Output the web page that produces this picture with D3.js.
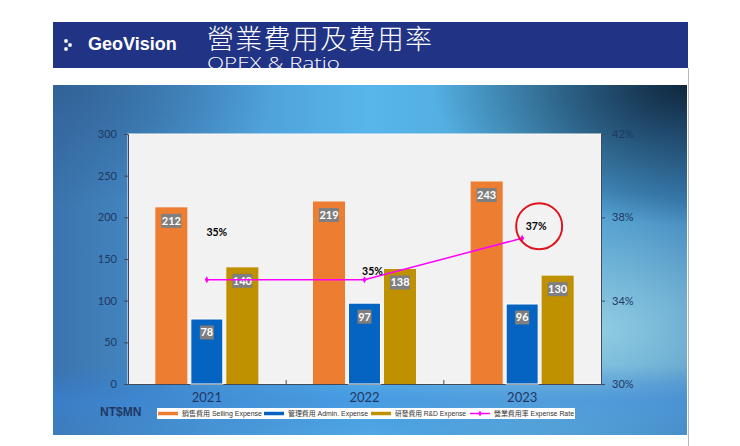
<!DOCTYPE html>
<html><head><meta charset="utf-8">
<script src="https://cdn.jsdelivr.net/npm/d3@7"></script>
<style>
html,body{margin:0;padding:0;background:#fff;}
svg{display:block;}
</style></head>
<body>
<svg id="c" width="740" height="446"></svg>
<script>
// ---- data ----
const categories = ["2021", "2022", "2023"];
const sellingExpense = [212, 219, 243];
const adminExpense = [78, 97, 96];
const rdExpense = [140, 138, 130];
const expenseRate = [0.35, 0.35, 0.37];
const leftTicks = [0, 50, 100, 150, 200, 250, 300];
const rightTicks = [0.30, 0.34, 0.38, 0.42];
const seriesNames = ["銷售費用 Selling Expense", "管理費用 Admin. Expense", "研發費用 R&D Expense", "營業費用率 Expense Rate"];

// ---- layout ----
const svg = d3.select("#c");
const W = 740, H = 446;
const plot = {x0: 128, x1: 601, y0: 134, y1: 384};
const colors = ["#ed7d31", "#0563c1", "#bf9000", "#ff00ff"];
const navy = "#1f3864";

const defs = svg.append("defs");
// background gradients
const lg = defs.append("linearGradient").attr("id", "bgH").attr("x1", 0).attr("x2", 1).attr("y1", 0).attr("y2", 0);
[[0, "#3b73ad"], [0.25, "#4b98d2"], [0.5, "#58b6ea"], [0.75, "#4fa6d8"], [1, "#3d86bd"]].forEach(s => lg.append("stop").attr("offset", s[0]).attr("stop-color", s[1]));
const rgDark = defs.append("radialGradient").attr("id", "bgTR").attr("cx", 1).attr("cy", 0).attr("r", 0.4);
rgDark.append("stop").attr("offset", 0).attr("stop-color", "#0d2238").attr("stop-opacity", 0.95);
rgDark.append("stop").attr("offset", 1).attr("stop-color", "#0d2238").attr("stop-opacity", 0);
const rgLight = defs.append("radialGradient").attr("id", "bgBR").attr("cx", 0.85).attr("cy", 0.7).attr("r", 0.4);
rgLight.append("stop").attr("offset", 0).attr("stop-color", "#9fd6e6").attr("stop-opacity", 0.85);
rgLight.append("stop").attr("offset", 1).attr("stop-color", "#9fd6e6").attr("stop-opacity", 0);
const rgTL = defs.append("radialGradient").attr("id", "bgTL").attr("cx", 0).attr("cy", 0).attr("r", 0.35);
rgTL.append("stop").attr("offset", 0).attr("stop-color", "#2f5f92").attr("stop-opacity", 0.8);
rgTL.append("stop").attr("offset", 1).attr("stop-color", "#2f5f92").attr("stop-opacity", 0);
const lgB = defs.append("linearGradient").attr("id", "bgB").attr("x1", 0).attr("x2", 0).attr("y1", 0).attr("y2", 1);
lgB.append("stop").attr("offset", 0.8).attr("stop-color", "#2f7ad8").attr("stop-opacity", 0);
lgB.append("stop").attr("offset", 0.9).attr("stop-color", "#3a86dc").attr("stop-opacity", 0.55);
lgB.append("stop").attr("offset", 1).attr("stop-color", "#3f8bd6").attr("stop-opacity", 0.35);

// panel
const panel = {x: 53, y: 85, w: 634, h: 350};
["url(#bgH)", "url(#bgTL)", "url(#bgBR)", "url(#bgTR)", "url(#bgB)"].forEach(f =>
  svg.append("rect").attr("x", panel.x).attr("y", panel.y).attr("width", panel.w).attr("height", panel.h).attr("fill", f));

// right gray border line
svg.append("line").attr("x1", 688.5).attr("x2", 688.5).attr("y1", 68).attr("y2", H).attr("stroke", "#b8b8b8").attr("stroke-width", 1);

// banner
svg.append("rect").attr("x", 53).attr("y", 22).attr("width", 635).attr("height", 46).attr("fill", "#213384");
const icon = svg.append("g").attr("fill", "#fff");
[[66, 41], [70, 45], [66, 49]].forEach(p => icon.append("rect").attr("x", p[0] - 1.7).attr("y", p[1] - 1.7).attr("width", 3.4).attr("height", 3.4).attr("rx", 0.8));
svg.append("text").attr("x", 88).attr("y", 50).attr("fill", "#fff").attr("font-family", "Liberation Sans, Arial, sans-serif")
  .attr("font-weight", "bold").attr("font-size", 18).text("GeoVision");
svg.append("text").attr("x", 207).attr("y", 48.5).attr("fill", "#fff").attr("font-family", "Noto Sans CJK TC, sans-serif")
  .attr("font-weight", 300).attr("font-size", 27).attr("textLength", 225).attr("lengthAdjust", "spacing").text("營業費用及費用率");
svg.append("text").attr("x", 207).attr("y", 68.5).attr("fill", "#fff")
  .attr("font-family", "Open Sans, sans-serif").attr("font-weight", 300).attr("font-size", 15.5).attr("textLength", 133)
  .attr("lengthAdjust", "spacingAndGlyphs").text("OPEX & Ratio");

// plot area
svg.append("rect").attr("x", plot.x0).attr("y", plot.y0).attr("width", plot.x1 - plot.x0).attr("height", plot.y1 - plot.y0)
  .attr("fill", "#f2f2f2").attr("stroke", "#fafafa").attr("stroke-width", 1);

// scales
const x = d3.scaleBand().domain(categories).range([plot.x0, plot.x1]).padding(0);
const sub = d3.scaleBand().domain([0, 1, 2]).range([-51.5, 51.5]).paddingInner(0.0986).paddingOuter(0);
const yL = d3.scaleLinear().domain([0, 300]).range([plot.y1, plot.y0]);
const yR = d3.scaleLinear().domain([0.30, 0.42]).range([plot.y1, plot.y0]);

// axes
const axisFont = "Lato, Open Sans, sans-serif";
const gL = svg.append("g").attr("transform", `translate(${plot.x0},0)`)
  .call(d3.axisLeft(yL).tickValues(leftTicks).tickSize(4).tickPadding(7));
const gR = svg.append("g").attr("transform", `translate(${plot.x1},0)`)
  .call(d3.axisRight(yR).tickValues(rightTicks).tickSize(4).tickPadding(7).tickFormat(d3.format(".0%")));
[gL, gR].forEach(g => {
  g.select(".domain").attr("stroke", "#404a5a");
  g.selectAll(".tick line").attr("stroke", "#404a5a");
  g.selectAll("text").attr("fill", navy).attr("font-family", axisFont).attr("font-size", 11);
});
const gB = svg.append("g").attr("transform", `translate(0,${plot.y1})`)
  .call(d3.axisBottom(x).tickSize(0).tickPadding(9));
gB.select(".domain").attr("stroke", "#404a5a");
gB.selectAll("text").attr("fill", navy).attr("font-family", axisFont).attr("font-size", 13);
// category boundary ticks (inside)
svg.append("g").selectAll("line").data(categories.slice(1)).join("line")
  .attr("x1", d => x(d) + 0.5).attr("x2", d => x(d) + 0.5).attr("y1", plot.y1 - 4).attr("y2", plot.y1).attr("stroke", "#404a5a");

// bars
const series = [sellingExpense, adminExpense, rdExpense];
const barData = [];
series.forEach((vals, si) => vals.forEach((v, ci) => barData.push({si, ci, v})));
const bx = d => x(categories[d.ci]) + x.bandwidth() / 2 + sub(d.si);
svg.append("g").selectAll("rect").data(barData).join("rect")
  .attr("x", bx).attr("y", d => yL(d.v)).attr("width", sub.bandwidth()).attr("height", d => yL(0) - yL(d.v))
  .attr("fill", d => colors[d.si])
  .attr("stroke", d => d.si === 1 ? "#ffffff" : "none").attr("stroke-width", 1);

// bar value labels
const lab = svg.append("g").selectAll("g").data(barData).join("g")
  .attr("transform", d => `translate(${bx(d) + sub.bandwidth() / 2},${yL(d.v) + 13.5})`);
lab.append("rect").attr("x", d => d.v >= 100 ? -10 : -7).attr("y", -7).attr("width", d => d.v >= 100 ? 20 : 14).attr("height", 14).attr("fill", "#7f7f7f");
lab.append("text").attr("text-anchor", "middle").attr("dy", "0.36em").attr("fill", "#fff").attr("font-family", axisFont)
  .attr("font-weight", "bold").attr("font-size", 11).text(d => d.v);

// expense rate line
const cx = (d, i) => x(categories[i]) + x.bandwidth() / 2;
svg.append("path").datum(expenseRate)
  .attr("d", d3.line().x(cx).y(d => yR(d)))
  .attr("fill", "none").attr("stroke", colors[3]).attr("stroke-width", 1.5);
svg.append("g").selectAll("path").data(expenseRate).join("path")
  .attr("transform", (d, i) => `translate(${cx(d, i)},${yR(d)})`)
  .attr("d", d3.symbol(d3.symbolDiamond, 14)).attr("fill", colors[3]);
const rateLabelOffset = [[10, -48], [8, -9], [14, -12]];
svg.append("g").selectAll("text").data(expenseRate).join("text")
  .attr("x", (d, i) => cx(d, i) + rateLabelOffset[i][0]).attr("y", (d, i) => yR(d) + rateLabelOffset[i][1])
  .attr("text-anchor", "middle").attr("dy", "0.35em").attr("fill", "#000").attr("font-family", axisFont)
  .attr("font-weight", "bold").attr("font-size", 10.5).text(d => d3.format(".0%")(d));
// highlight circle
svg.append("ellipse").attr("cx", cx(0, 2) + 17).attr("cy", yR(expenseRate[2]) - 12).attr("rx", 23).attr("ry", 23)
  .attr("fill", "none").attr("stroke", "#e0141e").attr("stroke-width", 2);

// unit label
svg.append("text").attr("x", 100).attr("y", 416).attr("fill", navy).attr("font-family", "Liberation Sans, Arial, sans-serif")
  .attr("font-weight", "bold").attr("font-size", 12).text("NT$MN");

// legend
svg.append("rect").attr("x", 157).attr("y", 408).attr("width", 418).attr("height", 11).attr("fill", "#fff");
const legX = [158, 264, 371, 470];
const legTextLen = [80, 80, 71, 80];
const leg = svg.append("g").selectAll("g").data(seriesNames).join("g").attr("transform", (d, i) => `translate(${legX[i]},413.5)`);
leg.append("line").attr("x1", 0).attr("x2", 20).attr("stroke", (d, i) => colors[i]).attr("stroke-width", (d, i) => i === 3 ? 1.5 : 3.5);
leg.filter((d, i) => i === 3).append("path").attr("transform", "translate(10,0)").attr("d", d3.symbol(d3.symbolDiamond, 10)).attr("fill", colors[3]);
leg.append("text").attr("x", 24).attr("dy", "0.35em").attr("fill", "#333").attr("font-family", "Liberation Sans, Noto Sans CJK TC, sans-serif")
  .attr("font-size", 7).attr("textLength", (d, i) => legTextLen[i]).attr("lengthAdjust", "spacingAndGlyphs").text(d => d);
</script>
</body></html>
